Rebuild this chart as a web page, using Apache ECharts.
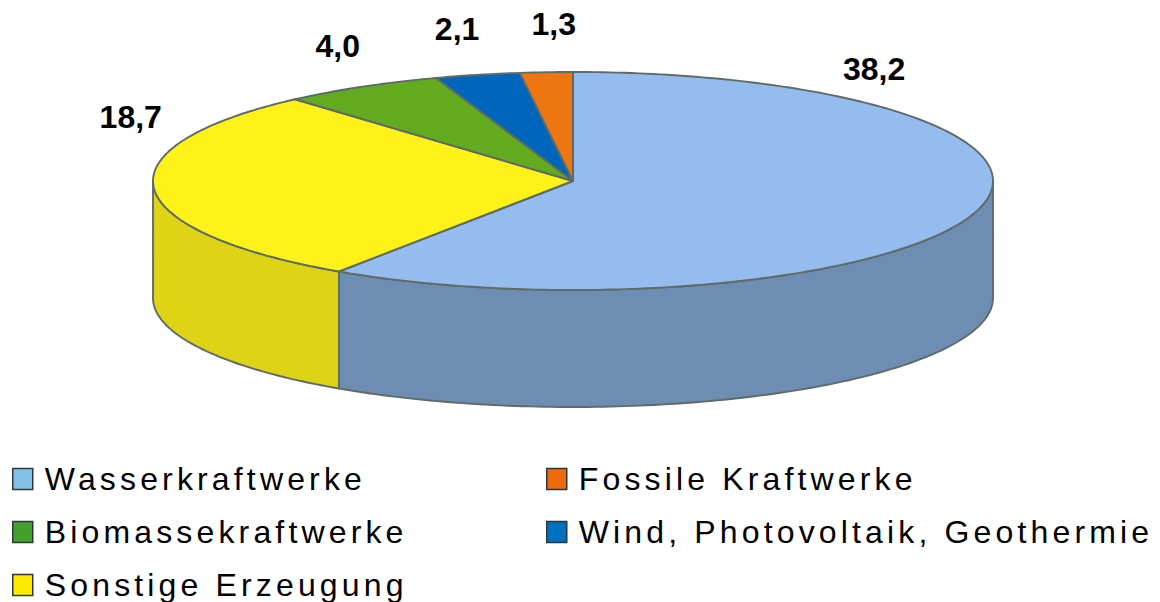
<!DOCTYPE html>
<html><head><meta charset="utf-8">
<script src="https://cdn.jsdelivr.net/npm/echarts@6/dist/echarts.min.js"></script>
<style>
html,body{margin:0;padding:0;background:#fff}
#c{width:1160px;height:602px}
#c text{letter-spacing:4.15px}
#c text[style*="bold"]{letter-spacing:0}
</style></head><body><div id="c"></div>
<script>
const names = ['Wasserkraftwerke','Sonstige Erzeugung','Biomassekraftwerke','Wind, Photovoltaik, Geothermie','Fossile Kraftwerke'];
const values = [38.2,18.7,4.0,2.1,1.3];
const topColors = ['#95BCEE','#FFF219','#62AB1E','#0066BC','#EE7611'];
const sideColors = ['#6E8DB2','#DFD316','#4F8A18','#00528F','#BE5E0D'];
const legendColors = ['#85C0E8','#FFEB00','#43A02B','#0070C0','#EE6A0A'];
// label anchors as fractions of the ellipse radii, measured from the pie centre
const labelAnchors = [[0.717,-1.03],[-1.053,-0.587],[-0.56,-1.239],[-0.276,-1.394],[-0.046,-1.44]];
const legendPos = {
  'Wasserkraftwerke':[12,463],'Biomassekraftwerke':[12,516],'Sonstige Erzeugung':[12,569],
  'Fossile Kraftwerke':[546,463],'Wind, Photovoltaik, Geothermie':[546,516]
};
const PIE = {cx:573,cy:181,rx:420,ry:109,depth:117};
const BORDER = {stroke:'#5E6B68',lineWidth:1.9,lineJoin:'round'};
const total = values.reduce((a,b)=>a+b,0);
const pt=(deg,dy=0)=>{const t=deg*Math.PI/180;return [PIE.cx+PIE.rx*Math.sin(t),PIE.cy-PIE.ry*Math.cos(t)+dy];};
const arc=(a,b,dy=0)=>{const n=Math.max(2,Math.ceil(Math.abs(b-a)));const o=[];for(let i=0;i<=n;i++)o.push(pt(a+(b-a)*i/n,dy));return o;};
function renderer(idx){
  return function(params,api){
    const val=api.value(0);
    const before=values.slice(0,idx).reduce((a,b)=>a+b,0);
    const a=before/total*360,b=(before+val)/total*360;
    const children=[];
    const s=Math.max(a,90),e=Math.min(b,270);
    if(e>s){
      const upper=arc(s,e),lower=arc(s,e,PIE.depth).reverse();
      children.push({type:'polygon',shape:{points:upper.concat(lower)},style:Object.assign({fill:sideColors[idx]},BORDER)});
    }
    children.push({type:'polygon',shape:{points:[[PIE.cx,PIE.cy]].concat(arc(a,b))},style:Object.assign({fill:topColors[idx]},BORDER)});
    children.push({type:'text',z2:10,style:{
      text:val.toFixed(1).replace('.',','),
      x:PIE.cx+labelAnchors[idx][0]*PIE.rx,y:PIE.cy+labelAnchors[idx][1]*PIE.ry,
      align:'center',verticalAlign:'middle',
      font:'bold 32px "Liberation Sans", Arial, sans-serif',fill:'#000'}});
    return {type:'group',children};
  };
}
const series=names.map((n,i)=>({type:'custom',name:n,coordinateSystem:'none',silent:true,animation:false,
  renderItem:renderer(i),data:[[values[i]]]}));
const legend=names.map((n,i)=>({
  left:legendPos[n][0],top:legendPos[n][1],orient:'horizontal',padding:0,
  itemWidth:20,itemHeight:21,selectedMode:false,
  textStyle:{fontFamily:'"Liberation Sans", Arial, sans-serif',fontSize:32,color:'#000',padding:[0,0,3,7]},
  data:[{name:n,icon:'rect',itemStyle:{color:legendColors[i],borderColor:'#2A3A3A',borderWidth:1.5,opacity:1}}]
}));
const chart=echarts.init(document.getElementById('c'),null,{renderer:'svg',width:1160,height:602});
chart.setOption({animation:false,backgroundColor:'#fff',legend,series});
</script></body></html>
